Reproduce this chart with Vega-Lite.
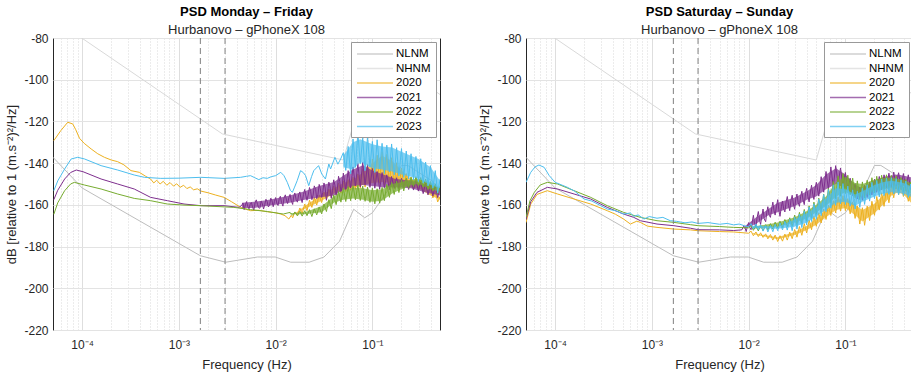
{
"$schema": "https://vega.github.io/schema/vega-lite/v6.json",
"background": "white",
"padding": {"left": 5, "top": 5, "right": 0, "bottom": 0},
"config": {
  "font": "Liberation Sans",
  "view": {"stroke": "#262626", "strokeWidth": 1},
  "axis": {"labelFont": "Liberation Sans", "labelFontSize": 12, "labelColor": "#262626", "titleFont": "Liberation Sans", "titleFontSize": 13, "titleFontWeight": "normal", "titleColor": "#262626", "domain": false, "ticks": false, "gridColor": "#e3e3e3"},
  "concat": {"spacing": 37}
},
"datasets": {
  "nlnm": [{"f":5e-5,"v":-137.2},{"f":1e-4,"v":-151.9},{"f":0.001667,"v":-184.4},{"f":0.003049,"v":-187.5},{"f":0.006494,"v":-185},{"f":0.009901,"v":-185},{"f":0.014286,"v":-187.5},{"f":0.022222,"v":-187.5},{"f":0.031646,"v":-185},{"f":0.045662,"v":-177.5},{"f":0.064103,"v":-162.1},{"f":0.083333,"v":-166.2},{"f":0.1,"v":-163.8},{"f":0.166667,"v":-149},{"f":0.2,"v":-141.1},{"f":0.232558,"v":-141.1},{"f":0.416667,"v":-148.6},{"f":0.5,"v":-152.8}],
  "nhnm": [{"f":5e-5,"v":-70.6},{"f":0.002818,"v":-126},{"f":0.05,"v":-138.5},{"f":0.064935,"v":-120},{"f":0.126582,"v":-113.5},{"f":0.15873,"v":-101},{"f":0.217391,"v":-96.5},{"f":0.263158,"v":-98},{"f":0.5,"v":-107.1}],
  "dash": [{"f":0.001667},{"f":0.003}],
  "bw20": [{"f":0.016,"lo":-164.5,"hi":-164},{"f":0.02,"lo":-162,"hi":-160.5},{"f":0.03,"lo":-158,"hi":-155},{"f":0.04,"lo":-154.5,"hi":-152},{"f":0.05,"lo":-153,"hi":-149.5},{"f":0.063,"lo":-152,"hi":-148},{"f":0.08,"lo":-150.5,"hi":-144.5},{"f":0.1,"lo":-149.5,"hi":-140},{"f":0.126,"lo":-149,"hi":-136.5},{"f":0.16,"lo":-149.5,"hi":-139},{"f":0.2,"lo":-150.5,"hi":-143.5},{"f":0.25,"lo":-151.5,"hi":-147.5},{"f":0.3,"lo":-152,"hi":-149.5},{"f":0.4,"lo":-155.5,"hi":-152},{"f":0.5,"lo":-157.5,"hi":-156.5}],
  "bw21": [{"f":0.0045,"lo":-161.5,"hi":-159},{"f":0.006,"lo":-161.5,"hi":-158.5},{"f":0.008,"lo":-160.5,"hi":-157.8},{"f":0.01,"lo":-160,"hi":-157},{"f":0.014,"lo":-159,"hi":-155.5},{"f":0.02,"lo":-157.5,"hi":-153.5},{"f":0.028,"lo":-156.5,"hi":-151},{"f":0.04,"lo":-155.5,"hi":-149},{"f":0.05,"lo":-153,"hi":-146},{"f":0.063,"lo":-151,"hi":-143},{"f":0.08,"lo":-150.5,"hi":-141},{"f":0.1,"lo":-151,"hi":-143.5},{"f":0.13,"lo":-151.5,"hi":-145.5},{"f":0.17,"lo":-151.5,"hi":-147.5},{"f":0.25,"lo":-152,"hi":-148.5},{"f":0.35,"lo":-154,"hi":-150},{"f":0.5,"lo":-155.5,"hi":-152}],
  "bw22": [{"f":0.014,"lo":-164.5,"hi":-164},{"f":0.02,"lo":-164.5,"hi":-163.5},{"f":0.03,"lo":-163.5,"hi":-160.5},{"f":0.04,"lo":-159,"hi":-156},{"f":0.05,"lo":-157.5,"hi":-153},{"f":0.063,"lo":-157,"hi":-151.8},{"f":0.08,"lo":-157.5,"hi":-152},{"f":0.1,"lo":-158.5,"hi":-153},{"f":0.126,"lo":-158,"hi":-152.5},{"f":0.16,"lo":-154.5,"hi":-150},{"f":0.2,"lo":-152.5,"hi":-149},{"f":0.25,"lo":-150.5,"hi":-147.8},{"f":0.3,"lo":-150,"hi":-147.5},{"f":0.4,"lo":-152.5,"hi":-149.5},{"f":0.5,"lo":-153.5,"hi":-152}],
  "bw23": [{"f":0.05,"lo":-142,"hi":-136.5},{"f":0.063,"lo":-143,"hi":-130},{"f":0.075,"lo":-139.5,"hi":-128.5},{"f":0.1,"lo":-142.5,"hi":-131},{"f":0.126,"lo":-143,"hi":-132},{"f":0.16,"lo":-144,"hi":-132.5},{"f":0.2,"lo":-145.5,"hi":-134.5},{"f":0.25,"lo":-146.5,"hi":-136.5},{"f":0.3,"lo":-147.5,"hi":-138},{"f":0.4,"lo":-150.5,"hi":-142},{"f":0.5,"lo":-152,"hi":-148.5}],
  "be20": [{"f":0.011,"lo":-174,"hi":-173.5},{"f":0.02,"lo":-176.5,"hi":-175.5},{"f":0.03,"lo":-174.5,"hi":-173},{"f":0.04,"lo":-172,"hi":-170},{"f":0.05,"lo":-169.5,"hi":-166.5},{"f":0.063,"lo":-166,"hi":-162.5},{"f":0.08,"lo":-162.5,"hi":-157.5},{"f":0.1,"lo":-161.5,"hi":-157},{"f":0.126,"lo":-165,"hi":-160},{"f":0.15,"lo":-168,"hi":-162.5},{"f":0.2,"lo":-164,"hi":-159.5},{"f":0.25,"lo":-159.5,"hi":-155},{"f":0.3,"lo":-155.5,"hi":-152},{"f":0.35,"lo":-154,"hi":-150.5},{"f":0.4,"lo":-155,"hi":-151.5},{"f":0.5,"lo":-160,"hi":-156}],
  "be21": [{"f":0.009,"lo":-171.5,"hi":-170.5},{"f":0.012,"lo":-169,"hi":-166},{"f":0.016,"lo":-165,"hi":-162},{"f":0.02,"lo":-163.5,"hi":-159},{"f":0.03,"lo":-160.5,"hi":-156.5},{"f":0.04,"lo":-157.5,"hi":-153.5},{"f":0.05,"lo":-156,"hi":-150.5},{"f":0.063,"lo":-152.5,"hi":-145.5},{"f":0.08,"lo":-150,"hi":-142.5},{"f":0.1,"lo":-152,"hi":-145.5},{"f":0.126,"lo":-156,"hi":-150.5},{"f":0.15,"lo":-156.5,"hi":-152},{"f":0.2,"lo":-153,"hi":-148.5},{"f":0.25,"lo":-151.5,"hi":-146.5},{"f":0.35,"lo":-150.5,"hi":-145.5},{"f":0.5,"lo":-151.5,"hi":-147}],
  "be22": [{"f":0.011,"lo":-171.5,"hi":-170.5},{"f":0.02,"lo":-170.5,"hi":-168.5},{"f":0.03,"lo":-168.5,"hi":-166},{"f":0.04,"lo":-166.5,"hi":-163},{"f":0.05,"lo":-163.5,"hi":-160},{"f":0.063,"lo":-160.5,"hi":-156},{"f":0.08,"lo":-156,"hi":-149},{"f":0.1,"lo":-154,"hi":-146.5},{"f":0.126,"lo":-155.5,"hi":-149.5},{"f":0.15,"lo":-156,"hi":-150},{"f":0.2,"lo":-153.5,"hi":-148},{"f":0.25,"lo":-152.5,"hi":-147},{"f":0.3,"lo":-152,"hi":-147},{"f":0.4,"lo":-153,"hi":-148},{"f":0.5,"lo":-155,"hi":-150}],
  "be23": [{"f":0.011,"lo":-171,"hi":-170},{"f":0.02,"lo":-171.5,"hi":-170.5},{"f":0.03,"lo":-170.5,"hi":-167},{"f":0.04,"lo":-168.5,"hi":-164},{"f":0.05,"lo":-165.5,"hi":-161},{"f":0.063,"lo":-162.5,"hi":-157},{"f":0.08,"lo":-159,"hi":-152},{"f":0.1,"lo":-158.5,"hi":-152.5},{"f":0.126,"lo":-160.5,"hi":-155},{"f":0.15,"lo":-158.5,"hi":-153.5},{"f":0.2,"lo":-156,"hi":-150.5},{"f":0.25,"lo":-154.5,"hi":-149},{"f":0.3,"lo":-154,"hi":-148.5},{"f":0.4,"lo":-154.5,"hi":-149.5},{"f":0.5,"lo":-156.5,"hi":-151.5}],
  "w20": [{"f":5.1e-5,"v":-129.2},{"f":6.0e-5,"v":-124.5},{"f":7.1e-5,"v":-120.4},{"f":8.0e-5,"v":-121.2},{"f":8.6e-5,"v":-124},{"f":9.4e-5,"v":-128.1},{"f":1.05e-4,"v":-130.5},{"f":1.24e-4,"v":-133.2},{"f":1.45e-4,"v":-135.5},{"f":1.7e-4,"v":-137.2},{"f":2.0e-4,"v":-138.5},{"f":2.33e-4,"v":-139.3},{"f":2.7e-4,"v":-140.8},{"f":3.2e-4,"v":-143.6},{"f":3.9e-4,"v":-144.4},{"f":4.5e-4,"v":-146.2},{"f":5.1e-4,"v":-147.6},{"f":5.5e-4,"v":-149.5},{"f":5.9e-4,"v":-148.2},{"f":6.4e-4,"v":-150},{"f":6.9e-4,"v":-148.7},{"f":7.5e-4,"v":-150.6},{"f":8.1e-4,"v":-149.3},{"f":8.8e-4,"v":-151},{"f":9.5e-4,"v":-149.9},{"f":0.00103,"v":-151.6},{"f":0.00112,"v":-150.6},{"f":0.00121,"v":-152.2},{"f":0.00131,"v":-151.4},{"f":0.00142,"v":-152.8},{"f":0.00155,"v":-152.3},{"f":0.00169,"v":-153.4},{"f":0.002,"v":-154.2},{"f":0.0024,"v":-155.3},{"f":0.00293,"v":-156.4},{"f":0.0035,"v":-158.5},{"f":0.00435,"v":-161.2},{"f":0.0055,"v":-162.8},{"f":0.0067,"v":-162.6},{"f":0.0082,"v":-163.3},{"f":0.01,"v":-163.8},{"f":0.0113,"v":-164.4},{"f":0.0125,"v":-165.2},{"f":0.0137,"v":-166.8},{"f":0.0145,"v":-165},{"f":0.015,"v":-166.2},{"f":0.0158,"v":-163.5},{"f":0.0168,"v":-165},{"f":0.0178,"v":-161.5},{"f":0.0188,"v":-164.2},{"f":0.02,"v":-159.6},{"f":0.0211,"v":-162.8},{"f":0.0224,"v":-157.8},{"f":0.0237,"v":-161.2},{"f":0.0251,"v":-156.5},{"f":0.0266,"v":-160.1},{"f":0.0282,"v":-155.2},{"f":0.0299,"v":-158.9},{"f":0.0316,"v":-153.8},{"f":0.0335,"v":-157.6},{"f":0.0355,"v":-152.4},{"f":0.0376,"v":-156.5},{"f":0.0398,"v":-151},{"f":0.0422,"v":-155.2},{"f":0.0447,"v":-149.6},{"f":0.0473,"v":-154.4},{"f":0.0501,"v":-148.5},{"f":0.0531,"v":-153.6},{"f":0.0562,"v":-147.9},{"f":0.0596,"v":-153},{"f":0.0631,"v":-146.8},{"f":0.0668,"v":-152.6},{"f":0.0708,"v":-145.2},{"f":0.075,"v":-152},{"f":0.0794,"v":-143},{"f":0.0841,"v":-151.5},{"f":0.0891,"v":-140.5},{"f":0.0944,"v":-150.8},{"f":0.1,"v":-138},{"f":0.106,"v":-150.2},{"f":0.112,"v":-136.2},{"f":0.119,"v":-149.7},{"f":0.126,"v":-134.5},{"f":0.133,"v":-150.4},{"f":0.141,"v":-135.8},{"f":0.15,"v":-151},{"f":0.158,"v":-137.4},{"f":0.168,"v":-150.7},{"f":0.178,"v":-139.8},{"f":0.188,"v":-151.6},{"f":0.2,"v":-142.3},{"f":0.211,"v":-151.2},{"f":0.224,"v":-145},{"f":0.237,"v":-151.8},{"f":0.251,"v":-146.7},{"f":0.266,"v":-152.3},{"f":0.282,"v":-147.8},{"f":0.299,"v":-153},{"f":0.316,"v":-148.4},{"f":0.335,"v":-153.8},{"f":0.355,"v":-149.5},{"f":0.376,"v":-155},{"f":0.398,"v":-151},{"f":0.422,"v":-156.7},{"f":0.447,"v":-153.2},{"f":0.473,"v":-158.6},{"f":0.501,"v":-156}],
  "w21": [{"f":5.1e-5,"v":-157.5},{"f":5.6e-5,"v":-153},{"f":6.6e-5,"v":-147.6},{"f":7.6e-5,"v":-144.5},{"f":8.7e-5,"v":-143.3},{"f":1.02e-4,"v":-144.1},{"f":1.57e-4,"v":-147.6},{"f":2.33e-4,"v":-150},{"f":3.46e-4,"v":-152.4},{"f":5.1e-4,"v":-156.4},{"f":7.6e-4,"v":-158},{"f":0.00113,"v":-159.6},{"f":0.00169,"v":-160.4},{"f":0.00293,"v":-160.4},{"f":0.0042,"v":-161.2},{"f":0.00447,"v":-160.2},{"f":0.0046,"v":-159.1},{"f":0.00473,"v":-162.3},{"f":0.00487,"v":-160},{"f":0.00501,"v":-158.4},{"f":0.00516,"v":-160.8},{"f":0.00531,"v":-161.9},{"f":0.00546,"v":-159.7},{"f":0.00562,"v":-158.9},{"f":0.00579,"v":-161.3},{"f":0.00596,"v":-162.5},{"f":0.00613,"v":-159},{"f":0.00631,"v":-157.6},{"f":0.0065,"v":-159.8},{"f":0.00668,"v":-161.4},{"f":0.00688,"v":-161.6},{"f":0.00708,"v":-158.2},{"f":0.00729,"v":-159.4},{"f":0.0075,"v":-162},{"f":0.00772,"v":-159.9},{"f":0.00794,"v":-157.3},{"f":0.00818,"v":-158.5},{"f":0.00841,"v":-161},{"f":0.00866,"v":-160.2},{"f":0.00891,"v":-156.8},{"f":0.00917,"v":-158},{"f":0.00944,"v":-160.9},{"f":0.00972,"v":-158.4},{"f":0.01,"v":-156.5},{"f":0.0103,"v":-159.2},{"f":0.0106,"v":-160.3},{"f":0.0109,"v":-157},{"f":0.0112,"v":-155.9},{"f":0.0115,"v":-158.8},{"f":0.0119,"v":-160.6},{"f":0.0122,"v":-156.8},{"f":0.0126,"v":-155.2},{"f":0.013,"v":-158.1},{"f":0.0133,"v":-159.4},{"f":0.0137,"v":-156.6},{"f":0.0141,"v":-155},{"f":0.0145,"v":-157.9},{"f":0.015,"v":-159.8},{"f":0.0154,"v":-155.8},{"f":0.0158,"v":-154.3},{"f":0.0163,"v":-157.5},{"f":0.0168,"v":-158.7},{"f":0.0173,"v":-155.2},{"f":0.0178,"v":-153.8},{"f":0.0183,"v":-156.9},{"f":0.0188,"v":-158.9},{"f":0.0194,"v":-155},{"f":0.02,"v":-152.6},{"f":0.0205,"v":-155.4},{"f":0.0211,"v":-157.8},{"f":0.0218,"v":-154.8},{"f":0.0224,"v":-151.7},{"f":0.023,"v":-153.5},{"f":0.0237,"v":-157.5},{"f":0.0244,"v":-155.3},{"f":0.0251,"v":-150.9},{"f":0.0259,"v":-152.6},{"f":0.0266,"v":-157},{"f":0.0274,"v":-154.9},{"f":0.0282,"v":-150.2},{"f":0.029,"v":-152.3},{"f":0.0299,"v":-156.4},{"f":0.0307,"v":-154.1},{"f":0.0316,"v":-149.5},{"f":0.0325,"v":-151.9},{"f":0.0335,"v":-157.8},{"f":0.0345,"v":-153.6},{"f":0.0355,"v":-149.1},{"f":0.0365,"v":-151.3},{"f":0.0376,"v":-156.9},{"f":0.0387,"v":-153.2},{"f":0.0398,"v":-148},{"f":0.041,"v":-150.6},{"f":0.0422,"v":-155.4},{"f":0.0435,"v":-152},{"f":0.0447,"v":-146.3},{"f":0.046,"v":-148.8},{"f":0.0473,"v":-153.6},{"f":0.0487,"v":-151.4},{"f":0.0501,"v":-144.8},{"f":0.0531,"v":-152.7},{"f":0.0562,"v":-143.6},{"f":0.0596,"v":-151.9},{"f":0.0631,"v":-141.8},{"f":0.0668,"v":-150.8},{"f":0.0708,"v":-140.2},{"f":0.075,"v":-151.4},{"f":0.0794,"v":-139.6},{"f":0.0841,"v":-150.3},{"f":0.0891,"v":-140.8},{"f":0.0944,"v":-151.6},{"f":0.1,"v":-142.5},{"f":0.106,"v":-152},{"f":0.112,"v":-144},{"f":0.119,"v":-152.5},{"f":0.126,"v":-144.5},{"f":0.133,"v":-151.8},{"f":0.141,"v":-145.6},{"f":0.15,"v":-152.7},{"f":0.158,"v":-146.4},{"f":0.168,"v":-152.2},{"f":0.178,"v":-147},{"f":0.188,"v":-152.4},{"f":0.2,"v":-147.3},{"f":0.211,"v":-152.1},{"f":0.224,"v":-147.8},{"f":0.237,"v":-152.6},{"f":0.251,"v":-147.9},{"f":0.266,"v":-152.9},{"f":0.282,"v":-148.3},{"f":0.299,"v":-153.4},{"f":0.316,"v":-149},{"f":0.335,"v":-154.6},{"f":0.355,"v":-149.3},{"f":0.376,"v":-155.2},{"f":0.398,"v":-149.7},{"f":0.422,"v":-155.8},{"f":0.447,"v":-150.4},{"f":0.473,"v":-156.5},{"f":0.501,"v":-151.5}],
  "w22": [{"f":5.1e-5,"v":-164.5},{"f":5.6e-5,"v":-159},{"f":6.6e-5,"v":-153.2},{"f":7.6e-5,"v":-150},{"f":8.3e-5,"v":-149.2},{"f":1.06e-4,"v":-150.5},{"f":1.57e-4,"v":-152.4},{"f":2.33e-4,"v":-154.8},{"f":3.46e-4,"v":-156.9},{"f":5.1e-4,"v":-158},{"f":7.6e-4,"v":-159.6},{"f":0.00113,"v":-160.1},{"f":0.00169,"v":-160.4},{"f":0.0037,"v":-161.2},{"f":0.0055,"v":-162.3},{"f":0.0082,"v":-163.2},{"f":0.012,"v":-164.4},{"f":0.0141,"v":-163.6},{"f":0.015,"v":-165},{"f":0.0158,"v":-163.4},{"f":0.0168,"v":-165.3},{"f":0.0178,"v":-163.1},{"f":0.0188,"v":-165.4},{"f":0.02,"v":-162.8},{"f":0.0211,"v":-165.2},{"f":0.0224,"v":-162.3},{"f":0.0237,"v":-165.6},{"f":0.0251,"v":-161.9},{"f":0.0266,"v":-164.8},{"f":0.0282,"v":-161},{"f":0.0299,"v":-164.3},{"f":0.0316,"v":-159.6},{"f":0.0335,"v":-163.2},{"f":0.0355,"v":-157.5},{"f":0.0376,"v":-161.8},{"f":0.0398,"v":-155.2},{"f":0.0422,"v":-159.9},{"f":0.0447,"v":-153.6},{"f":0.0473,"v":-158.7},{"f":0.0501,"v":-152},{"f":0.0531,"v":-158.4},{"f":0.0562,"v":-151.2},{"f":0.0596,"v":-158},{"f":0.0631,"v":-150.8},{"f":0.0668,"v":-157.6},{"f":0.0708,"v":-150.5},{"f":0.075,"v":-157.9},{"f":0.0794,"v":-151},{"f":0.0841,"v":-158.3},{"f":0.0891,"v":-151.5},{"f":0.0944,"v":-158.8},{"f":0.1,"v":-152},{"f":0.106,"v":-159.5},{"f":0.112,"v":-152.3},{"f":0.119,"v":-159.2},{"f":0.126,"v":-151.6},{"f":0.133,"v":-158},{"f":0.141,"v":-150.2},{"f":0.15,"v":-156.4},{"f":0.158,"v":-149.3},{"f":0.168,"v":-155},{"f":0.178,"v":-148.6},{"f":0.188,"v":-154.1},{"f":0.2,"v":-148},{"f":0.211,"v":-153.3},{"f":0.224,"v":-147.2},{"f":0.237,"v":-152},{"f":0.251,"v":-146.8},{"f":0.266,"v":-151.2},{"f":0.282,"v":-146.5},{"f":0.299,"v":-150.8},{"f":0.316,"v":-146.9},{"f":0.335,"v":-151.5},{"f":0.355,"v":-147.6},{"f":0.376,"v":-152.6},{"f":0.398,"v":-148.8},{"f":0.422,"v":-153.4},{"f":0.447,"v":-149.9},{"f":0.473,"v":-154.6},{"f":0.501,"v":-151}],
  "w23": [{"f":5.1e-5,"v":-153.2},{"f":5.6e-5,"v":-148.5},{"f":6.6e-5,"v":-142.8},{"f":7.7e-5,"v":-138},{"f":9.0e-5,"v":-137.2},{"f":1.06e-4,"v":-138},{"f":1.57e-4,"v":-141.2},{"f":2.33e-4,"v":-143.3},{"f":3.46e-4,"v":-145.7},{"f":4.4e-4,"v":-146.8},{"f":6.5e-4,"v":-147.3},{"f":0.001,"v":-147.2},{"f":0.00169,"v":-146.8},{"f":0.00293,"v":-147.3},{"f":0.00435,"v":-146.8},{"f":0.005,"v":-146.3},{"f":0.0055,"v":-146},{"f":0.0061,"v":-147},{"f":0.0067,"v":-147.9},{"f":0.0074,"v":-147},{"f":0.0082,"v":-147.3},{"f":0.009,"v":-146.5},{"f":0.01,"v":-146},{"f":0.0113,"v":-144.4},{"f":0.0122,"v":-146},{"f":0.0132,"v":-149.2},{"f":0.0142,"v":-153},{"f":0.0149,"v":-154},{"f":0.0157,"v":-151.5},{"f":0.0167,"v":-148.4},{"f":0.0181,"v":-143.6},{"f":0.0193,"v":-144.5},{"f":0.0204,"v":-146},{"f":0.022,"v":-150.8},{"f":0.0235,"v":-146.5},{"f":0.0248,"v":-143.6},{"f":0.0278,"v":-141.2},{"f":0.03,"v":-145.2},{"f":0.0327,"v":-147.6},{"f":0.0355,"v":-140.4},{"f":0.037,"v":-142.8},{"f":0.041,"v":-137.2},{"f":0.044,"v":-140.5},{"f":0.047,"v":-138},{"f":0.0501,"v":-135},{"f":0.0531,"v":-143.5},{"f":0.0562,"v":-132},{"f":0.0596,"v":-145.2},{"f":0.0631,"v":-128.4},{"f":0.0668,"v":-142},{"f":0.0708,"v":-125.5},{"f":0.075,"v":-140.3},{"f":0.0794,"v":-128},{"f":0.0841,"v":-143.6},{"f":0.0891,"v":-127.2},{"f":0.0944,"v":-141.8},{"f":0.1,"v":-129.6},{"f":0.106,"v":-144.5},{"f":0.112,"v":-128.8},{"f":0.119,"v":-142.7},{"f":0.126,"v":-130.5},{"f":0.133,"v":-145},{"f":0.141,"v":-131.4},{"f":0.15,"v":-144.2},{"f":0.158,"v":-130.8},{"f":0.168,"v":-145.6},{"f":0.178,"v":-132.6},{"f":0.188,"v":-146.1},{"f":0.2,"v":-133},{"f":0.211,"v":-146.8},{"f":0.224,"v":-134.2},{"f":0.237,"v":-147.5},{"f":0.251,"v":-135.5},{"f":0.266,"v":-148},{"f":0.282,"v":-136.8},{"f":0.299,"v":-148.8},{"f":0.316,"v":-137.9},{"f":0.335,"v":-149.6},{"f":0.355,"v":-139.5},{"f":0.376,"v":-150.9},{"f":0.398,"v":-141.2},{"f":0.422,"v":-152},{"f":0.447,"v":-143.6},{"f":0.473,"v":-154.3},{"f":0.501,"v":-147.5}],
  "e20": [{"f":5.0e-5,"v":-168.5},{"f":5.6e-5,"v":-159.6},{"f":6.5e-5,"v":-155},{"f":8.3e-5,"v":-153.2},{"f":1.06e-4,"v":-154.8},{"f":1.57e-4,"v":-157.2},{"f":2.33e-4,"v":-159.6},{"f":3.46e-4,"v":-162.8},{"f":4.2e-4,"v":-164.5},{"f":5.1e-4,"v":-166.8},{"f":6.0e-4,"v":-169.2},{"f":7.0e-4,"v":-167.8},{"f":7.6e-4,"v":-168.4},{"f":9.0e-4,"v":-170.2},{"f":0.00113,"v":-170.8},{"f":0.00169,"v":-171.6},{"f":0.0025,"v":-172},{"f":0.003,"v":-172.4},{"f":0.005,"v":-172.8},{"f":0.007,"v":-173},{"f":0.01,"v":-173.6},{"f":0.0106,"v":-172.6},{"f":0.0112,"v":-174.8},{"f":0.0119,"v":-173},{"f":0.0126,"v":-175.2},{"f":0.0133,"v":-173.4},{"f":0.0141,"v":-175.6},{"f":0.015,"v":-173.9},{"f":0.0158,"v":-176.3},{"f":0.0168,"v":-174.2},{"f":0.0178,"v":-176.9},{"f":0.0188,"v":-174.5},{"f":0.02,"v":-177.6},{"f":0.0211,"v":-174.8},{"f":0.0224,"v":-177.4},{"f":0.0237,"v":-174},{"f":0.0251,"v":-176.9},{"f":0.0266,"v":-173.1},{"f":0.0282,"v":-176.2},{"f":0.0299,"v":-171.8},{"f":0.0316,"v":-175.5},{"f":0.0335,"v":-170.4},{"f":0.0355,"v":-174.6},{"f":0.0376,"v":-169},{"f":0.0398,"v":-173.5},{"f":0.0422,"v":-167.3},{"f":0.0447,"v":-171.9},{"f":0.0473,"v":-165.5},{"f":0.0501,"v":-170.3},{"f":0.0531,"v":-163.8},{"f":0.0562,"v":-168.7},{"f":0.0596,"v":-162},{"f":0.0631,"v":-167},{"f":0.0668,"v":-160.2},{"f":0.0708,"v":-165.1},{"f":0.075,"v":-158},{"f":0.0794,"v":-163.9},{"f":0.0841,"v":-156.1},{"f":0.0891,"v":-163},{"f":0.0944,"v":-155.6},{"f":0.1,"v":-162.8},{"f":0.106,"v":-157},{"f":0.112,"v":-164.3},{"f":0.119,"v":-158.8},{"f":0.126,"v":-166.5},{"f":0.133,"v":-160.5},{"f":0.141,"v":-169.2},{"f":0.15,"v":-161.4},{"f":0.158,"v":-169.8},{"f":0.168,"v":-160.6},{"f":0.178,"v":-167.5},{"f":0.188,"v":-158.3},{"f":0.2,"v":-165},{"f":0.211,"v":-156},{"f":0.224,"v":-162.5},{"f":0.237,"v":-154.2},{"f":0.251,"v":-160.7},{"f":0.266,"v":-152.5},{"f":0.282,"v":-159},{"f":0.299,"v":-150.8},{"f":0.316,"v":-156.6},{"f":0.335,"v":-149},{"f":0.355,"v":-155.2},{"f":0.376,"v":-149.5},{"f":0.398,"v":-156},{"f":0.422,"v":-151.5},{"f":0.447,"v":-158.3},{"f":0.473,"v":-154.6},{"f":0.501,"v":-161}],
  "e21": [{"f":5.0e-5,"v":-167},{"f":5.6e-5,"v":-158.5},{"f":6.5e-5,"v":-154},{"f":8.3e-5,"v":-151.6},{"f":1.06e-4,"v":-152.4},{"f":1.57e-4,"v":-154.8},{"f":2.33e-4,"v":-157.2},{"f":3.46e-4,"v":-161.2},{"f":5.1e-4,"v":-164.4},{"f":6.5e-4,"v":-166},{"f":7.6e-4,"v":-167.6},{"f":0.00113,"v":-169.2},{"f":0.00169,"v":-170},{"f":0.0025,"v":-171.2},{"f":0.003,"v":-171.9},{"f":0.005,"v":-172},{"f":0.007,"v":-172.3},{"f":0.0085,"v":-172},{"f":0.00891,"v":-170.2},{"f":0.00917,"v":-171},{"f":0.00944,"v":-172.8},{"f":0.00972,"v":-170.3},{"f":0.01,"v":-168.5},{"f":0.0103,"v":-170.9},{"f":0.0106,"v":-171.9},{"f":0.0109,"v":-168.2},{"f":0.0112,"v":-165},{"f":0.0115,"v":-168.9},{"f":0.0119,"v":-170.6},{"f":0.0122,"v":-166.4},{"f":0.0126,"v":-163.2},{"f":0.013,"v":-167.5},{"f":0.0133,"v":-169.4},{"f":0.0137,"v":-165.3},{"f":0.0141,"v":-162},{"f":0.0145,"v":-166.8},{"f":0.015,"v":-168.1},{"f":0.0154,"v":-163.5},{"f":0.0158,"v":-160.9},{"f":0.0163,"v":-164.9},{"f":0.0168,"v":-166},{"f":0.0173,"v":-162},{"f":0.0178,"v":-158.7},{"f":0.0183,"v":-162.8},{"f":0.0188,"v":-164.9},{"f":0.0194,"v":-160.6},{"f":0.02,"v":-157.5},{"f":0.0205,"v":-162.3},{"f":0.0211,"v":-165.5},{"f":0.0218,"v":-160.9},{"f":0.0224,"v":-158.2},{"f":0.023,"v":-161.8},{"f":0.0237,"v":-163.4},{"f":0.0244,"v":-158.6},{"f":0.0251,"v":-156},{"f":0.0259,"v":-160.4},{"f":0.0266,"v":-162.8},{"f":0.0274,"v":-157.8},{"f":0.0282,"v":-155.4},{"f":0.029,"v":-159.6},{"f":0.0299,"v":-162.1},{"f":0.0307,"v":-157.2},{"f":0.0316,"v":-154.8},{"f":0.0325,"v":-158.9},{"f":0.0335,"v":-160.7},{"f":0.0345,"v":-155.9},{"f":0.0355,"v":-153.5},{"f":0.0365,"v":-157.6},{"f":0.0376,"v":-159.9},{"f":0.0387,"v":-154.5},{"f":0.0398,"v":-152.1},{"f":0.041,"v":-156},{"f":0.0422,"v":-158.6},{"f":0.0435,"v":-153.8},{"f":0.0447,"v":-150.6},{"f":0.046,"v":-154.9},{"f":0.0473,"v":-157.4},{"f":0.0487,"v":-152},{"f":0.0501,"v":-149.2},{"f":0.0531,"v":-155.8},{"f":0.0562,"v":-146.5},{"f":0.0596,"v":-153.9},{"f":0.0631,"v":-144},{"f":0.0668,"v":-152.5},{"f":0.0708,"v":-141.8},{"f":0.075,"v":-151.4},{"f":0.0794,"v":-141.2},{"f":0.0841,"v":-150},{"f":0.0891,"v":-142.3},{"f":0.0944,"v":-151.2},{"f":0.1,"v":-144.5},{"f":0.106,"v":-153},{"f":0.112,"v":-147.2},{"f":0.119,"v":-155.6},{"f":0.126,"v":-149.8},{"f":0.133,"v":-157.2},{"f":0.141,"v":-151.5},{"f":0.15,"v":-157.8},{"f":0.158,"v":-150.6},{"f":0.168,"v":-156.5},{"f":0.178,"v":-149},{"f":0.188,"v":-155.3},{"f":0.2,"v":-147.7},{"f":0.211,"v":-154},{"f":0.224,"v":-146.4},{"f":0.237,"v":-152.8},{"f":0.251,"v":-145.6},{"f":0.266,"v":-152},{"f":0.282,"v":-144.8},{"f":0.299,"v":-151.4},{"f":0.316,"v":-144.3},{"f":0.335,"v":-150.9},{"f":0.355,"v":-144.6},{"f":0.376,"v":-151.5},{"f":0.398,"v":-145},{"f":0.422,"v":-151.8},{"f":0.447,"v":-145.6},{"f":0.473,"v":-152.6},{"f":0.501,"v":-146.5}],
  "e22": [{"f":5.0e-5,"v":-166},{"f":5.5e-5,"v":-158},{"f":6.1e-5,"v":-154},{"f":7.0e-5,"v":-150.5},{"f":8.3e-5,"v":-149.2},{"f":1.06e-4,"v":-150},{"f":1.57e-4,"v":-153.2},{"f":2.33e-4,"v":-156.4},{"f":3.46e-4,"v":-160.4},{"f":5.1e-4,"v":-163.6},{"f":7.6e-4,"v":-166},{"f":0.00113,"v":-167.6},{"f":0.00169,"v":-168.4},{"f":0.0025,"v":-169.5},{"f":0.003,"v":-170},{"f":0.005,"v":-170.4},{"f":0.007,"v":-170.8},{"f":0.01,"v":-171},{"f":0.0106,"v":-170},{"f":0.0112,"v":-172.2},{"f":0.0119,"v":-170.1},{"f":0.0126,"v":-172.5},{"f":0.0133,"v":-169.8},{"f":0.0141,"v":-172.4},{"f":0.015,"v":-169.5},{"f":0.0158,"v":-172},{"f":0.0168,"v":-169},{"f":0.0178,"v":-171.6},{"f":0.0188,"v":-168.3},{"f":0.02,"v":-171.2},{"f":0.0211,"v":-167.8},{"f":0.0224,"v":-170.9},{"f":0.0237,"v":-167},{"f":0.0251,"v":-170.5},{"f":0.0266,"v":-166.2},{"f":0.0282,"v":-170.3},{"f":0.0299,"v":-164.9},{"f":0.0316,"v":-169.7},{"f":0.0335,"v":-163.6},{"f":0.0355,"v":-168.9},{"f":0.0376,"v":-162.2},{"f":0.0398,"v":-167.8},{"f":0.0422,"v":-160.5},{"f":0.0447,"v":-166.4},{"f":0.0473,"v":-158.7},{"f":0.0501,"v":-164.6},{"f":0.0531,"v":-156.8},{"f":0.0562,"v":-163.3},{"f":0.0596,"v":-154.9},{"f":0.0631,"v":-161.6},{"f":0.0668,"v":-152},{"f":0.0708,"v":-159.4},{"f":0.075,"v":-148.8},{"f":0.0794,"v":-157.2},{"f":0.0841,"v":-146.1},{"f":0.0891,"v":-155.9},{"f":0.0944,"v":-145},{"f":0.1,"v":-154.6},{"f":0.106,"v":-145.8},{"f":0.112,"v":-155.2},{"f":0.119,"v":-147.2},{"f":0.126,"v":-156.6},{"f":0.133,"v":-148.5},{"f":0.141,"v":-157.5},{"f":0.15,"v":-149},{"f":0.158,"v":-156.8},{"f":0.168,"v":-148.2},{"f":0.178,"v":-155.4},{"f":0.188,"v":-147},{"f":0.2,"v":-154.2},{"f":0.211,"v":-146.3},{"f":0.224,"v":-153.6},{"f":0.237,"v":-145.8},{"f":0.251,"v":-153.2},{"f":0.266,"v":-145.6},{"f":0.282,"v":-152.9},{"f":0.299,"v":-145.9},{"f":0.316,"v":-153},{"f":0.335,"v":-146.2},{"f":0.355,"v":-153.5},{"f":0.376,"v":-146.9},{"f":0.398,"v":-154},{"f":0.422,"v":-147.8},{"f":0.447,"v":-155.1},{"f":0.473,"v":-149},{"f":0.501,"v":-156.2}],
  "e23": [{"f":5.0e-5,"v":-149.2},{"f":5.6e-5,"v":-144.4},{"f":6.2e-5,"v":-141.8},{"f":6.8e-5,"v":-140.9},{"f":7.7e-5,"v":-142},{"f":8.7e-5,"v":-146},{"f":1.0e-4,"v":-149.2},{"f":1.34e-4,"v":-151.6},{"f":1.6e-4,"v":-153.5},{"f":1.99e-4,"v":-157.2},{"f":2.4e-4,"v":-158.2},{"f":2.96e-4,"v":-160.4},{"f":3.46e-4,"v":-162},{"f":4.2e-4,"v":-162.8},{"f":5.1e-4,"v":-164.4},{"f":6.0e-4,"v":-163.9},{"f":6.5e-4,"v":-165.5},{"f":7.2e-4,"v":-164.8},{"f":8.3e-4,"v":-166.8},{"f":9.4e-4,"v":-165.6},{"f":0.00113,"v":-166.4},{"f":0.0013,"v":-166},{"f":0.00155,"v":-167.6},{"f":0.0018,"v":-167.9},{"f":0.0022,"v":-168.6},{"f":0.0026,"v":-168.2},{"f":0.003,"v":-168.9},{"f":0.0038,"v":-168.5},{"f":0.005,"v":-169.3},{"f":0.006,"v":-168.9},{"f":0.007,"v":-169.6},{"f":0.008,"v":-169.2},{"f":0.009,"v":-170},{"f":0.01,"v":-170.5},{"f":0.0106,"v":-169},{"f":0.0112,"v":-171.6},{"f":0.0119,"v":-169.2},{"f":0.0126,"v":-172},{"f":0.0133,"v":-169.6},{"f":0.0141,"v":-172.6},{"f":0.015,"v":-169.9},{"f":0.0158,"v":-173},{"f":0.0168,"v":-169.8},{"f":0.0178,"v":-172.9},{"f":0.0188,"v":-169.3},{"f":0.02,"v":-172.4},{"f":0.0211,"v":-168.6},{"f":0.0224,"v":-172},{"f":0.0237,"v":-167.9},{"f":0.0251,"v":-172.1},{"f":0.0266,"v":-167},{"f":0.0282,"v":-172.4},{"f":0.0299,"v":-165.8},{"f":0.0316,"v":-171.6},{"f":0.0335,"v":-164.4},{"f":0.0355,"v":-170.9},{"f":0.0376,"v":-162.9},{"f":0.0398,"v":-169.6},{"f":0.0422,"v":-161},{"f":0.0447,"v":-168},{"f":0.0473,"v":-159.5},{"f":0.0501,"v":-166.9},{"f":0.0531,"v":-157.3},{"f":0.0562,"v":-165.2},{"f":0.0596,"v":-155.1},{"f":0.0631,"v":-163.3},{"f":0.0668,"v":-152.7},{"f":0.0708,"v":-161.6},{"f":0.075,"v":-150.4},{"f":0.0794,"v":-160.2},{"f":0.0841,"v":-149},{"f":0.0891,"v":-159.5},{"f":0.0944,"v":-149.8},{"f":0.1,"v":-159.8},{"f":0.106,"v":-151},{"f":0.112,"v":-160.6},{"f":0.119,"v":-152.8},{"f":0.126,"v":-162},{"f":0.133,"v":-153.5},{"f":0.141,"v":-161.2},{"f":0.15,"v":-152},{"f":0.158,"v":-159.8},{"f":0.168,"v":-150.4},{"f":0.178,"v":-158.2},{"f":0.188,"v":-149.2},{"f":0.2,"v":-157},{"f":0.211,"v":-148.3},{"f":0.224,"v":-156.2},{"f":0.237,"v":-147.6},{"f":0.251,"v":-155.6},{"f":0.266,"v":-147.2},{"f":0.282,"v":-155},{"f":0.299,"v":-147},{"f":0.316,"v":-154.8},{"f":0.335,"v":-147.4},{"f":0.355,"v":-155.1},{"f":0.376,"v":-148},{"f":0.398,"v":-155.5},{"f":0.422,"v":-148.6},{"f":0.447,"v":-156.4},{"f":0.473,"v":-150},{"f":0.501,"v":-157.4}]
},
"hconcat": [
  {
    "width": 387, "height": 292,
    "title": {"text": "PSD Monday – Friday", "subtitle": "Hurbanovo – gPhoneX 108", "anchor": "middle", "frame": "group", "font": "Liberation Sans", "subtitleFont": "Liberation Sans", "fontSize": 13, "fontWeight": "bold", "subtitleFontSize": 13, "color": "black", "subtitleColor": "#262626", "offset": -5, "subtitlePadding": 5},
    "encoding": {
      "x": {"field": "f", "type": "quantitative", "title": "Frequency (Hz)",
        "scale": {"type": "log", "domain": [5e-5, 0.5], "nice": false},
        "axis": {"values": [6e-5,7e-5,8e-5,9e-5,0.0001,0.0002,0.0003,0.0004,0.0005,0.0006,0.0007,0.0008,0.0009,0.001,0.002,0.003,0.004,0.005,0.006,0.007,0.008,0.009,0.01,0.02,0.03,0.04,0.05,0.06,0.07,0.08,0.09,0.1,0.2,0.3,0.4],
          "labelExpr": "datum.value == 0.0001 ? '10⁻⁴' : datum.value == 0.001 ? '10⁻³' : datum.value == 0.01 ? '10⁻²' : datum.value == 0.1 ? '10⁻¹' : ''",
          "labelOverlap": false, "labelFlush": false, "labelPadding": 9, "titlePadding": 8,
          "gridDash": {"condition": {"test": "datum.value == 0.0001 || datum.value == 0.001 || datum.value == 0.01 || datum.value == 0.1", "value": []}, "value": [1, 2]},
          "gridColor": {"condition": {"test": "datum.value == 0.0001 || datum.value == 0.001 || datum.value == 0.01 || datum.value == 0.1", "value": "#dedede"}, "value": "#d8d8d8"}}}
    },
    "layer": [
      {"data": {"name": "nhnm"}, "mark": {"type": "line", "clip": true, "strokeWidth": 1},
       "encoding": {
         "y": {"field": "v", "type": "quantitative", "title": "dB [relative to 1 (m.s⁻²)²/Hz]", "scale": {"domain": [-220, -80], "nice": false, "zero": false}, "axis": {"values": [-220,-200,-180,-160,-140,-120,-100,-80], "labelExpr": "'' + datum.value", "labelPadding": 5, "titlePadding": 5, "gridColor": "#e3e3e3"}},
         "color": {"datum": "NHNM", "scale": {"domain": ["NLNM","NHNM","2020","2021","2022","2023"], "range": ["#bdbdbd","#d9d9d9","#EDB120","#7E2F8E","#77AC30","#4DBEEE"]},
           "legend": {"orient": "top-right", "offset": 4, "title": null, "fillColor": "white", "strokeColor": "#999999", "padding": 5, "symbolType": "M-1,0H5", "symbolSize": 144, "symbolStrokeWidth": 1.5, "labelFontSize": 11.5, "labelFont": "Liberation Sans", "labelColor": "black", "rowPadding": 1.5, "labelOffset": 26}}}},
      {"data": {"name": "nlnm"}, "mark": {"type": "line", "clip": true, "strokeWidth": 1}, "encoding": {"y": {"field": "v", "type": "quantitative"}, "color": {"datum": "NLNM"}}},
      {"data": {"name": "bw20"}, "mark": {"type": "area", "clip": true, "opacity": 0.7}, "encoding": {"y": {"field": "lo", "type": "quantitative", "title": "dB [relative to 1 (m.s⁻²)²/Hz]"}, "y2": {"field": "hi"}, "color": {"datum": "2020"}}},
      {"data": {"name": "w20"}, "mark": {"type": "line", "clip": true, "strokeWidth": 1}, "encoding": {"y": {"field": "v", "type": "quantitative"}, "color": {"datum": "2020"}}},
      {"data": {"name": "bw21"}, "mark": {"type": "area", "clip": true, "opacity": 0.7}, "encoding": {"y": {"field": "lo", "type": "quantitative", "title": "dB [relative to 1 (m.s⁻²)²/Hz]"}, "y2": {"field": "hi"}, "color": {"datum": "2021"}}},
      {"data": {"name": "w21"}, "mark": {"type": "line", "clip": true, "strokeWidth": 1}, "encoding": {"y": {"field": "v", "type": "quantitative"}, "color": {"datum": "2021"}}},
      {"data": {"name": "bw22"}, "mark": {"type": "area", "clip": true, "opacity": 0.7}, "encoding": {"y": {"field": "lo", "type": "quantitative", "title": "dB [relative to 1 (m.s⁻²)²/Hz]"}, "y2": {"field": "hi"}, "color": {"datum": "2022"}}},
      {"data": {"name": "w22"}, "mark": {"type": "line", "clip": true, "strokeWidth": 1}, "encoding": {"y": {"field": "v", "type": "quantitative"}, "color": {"datum": "2022"}}},
      {"data": {"name": "bw23"}, "mark": {"type": "area", "clip": true, "opacity": 0.7}, "encoding": {"y": {"field": "lo", "type": "quantitative", "title": "dB [relative to 1 (m.s⁻²)²/Hz]"}, "y2": {"field": "hi"}, "color": {"datum": "2023"}}},
      {"data": {"name": "w23"}, "mark": {"type": "line", "clip": true, "strokeWidth": 1}, "encoding": {"y": {"field": "v", "type": "quantitative"}, "color": {"datum": "2023"}}},
      {"data": {"name": "dash"}, "mark": {"type": "rule", "color": "#808080", "strokeDash": [6, 4], "strokeWidth": 1}, "encoding": {}}
    ]
  },
  {
    "width": 387, "height": 292,
    "title": {"text": "PSD Saturday – Sunday", "subtitle": "Hurbanovo – gPhoneX 108", "anchor": "middle", "frame": "group", "font": "Liberation Sans", "subtitleFont": "Liberation Sans", "fontSize": 13, "fontWeight": "bold", "subtitleFontSize": 13, "color": "black", "subtitleColor": "#262626", "offset": -5, "subtitlePadding": 5},
    "encoding": {
      "x": {"field": "f", "type": "quantitative", "title": "Frequency (Hz)",
        "scale": {"type": "log", "domain": [5e-5, 0.5], "nice": false},
        "axis": {"values": [6e-5,7e-5,8e-5,9e-5,0.0001,0.0002,0.0003,0.0004,0.0005,0.0006,0.0007,0.0008,0.0009,0.001,0.002,0.003,0.004,0.005,0.006,0.007,0.008,0.009,0.01,0.02,0.03,0.04,0.05,0.06,0.07,0.08,0.09,0.1,0.2,0.3,0.4],
          "labelExpr": "datum.value == 0.0001 ? '10⁻⁴' : datum.value == 0.001 ? '10⁻³' : datum.value == 0.01 ? '10⁻²' : datum.value == 0.1 ? '10⁻¹' : ''",
          "labelOverlap": false, "labelFlush": false, "labelPadding": 9, "titlePadding": 8,
          "gridDash": {"condition": {"test": "datum.value == 0.0001 || datum.value == 0.001 || datum.value == 0.01 || datum.value == 0.1", "value": []}, "value": [1, 2]},
          "gridColor": {"condition": {"test": "datum.value == 0.0001 || datum.value == 0.001 || datum.value == 0.01 || datum.value == 0.1", "value": "#dedede"}, "value": "#d8d8d8"}}}
    },
    "layer": [
      {"data": {"name": "nhnm"}, "mark": {"type": "line", "clip": true, "strokeWidth": 1},
       "encoding": {
         "y": {"field": "v", "type": "quantitative", "title": "dB [relative to 1 (m.s⁻²)²/Hz]", "scale": {"domain": [-220, -80], "nice": false, "zero": false}, "axis": {"values": [-220,-200,-180,-160,-140,-120,-100,-80], "labelExpr": "'' + datum.value", "labelPadding": 5, "titlePadding": 5, "gridColor": "#e3e3e3"}},
         "color": {"datum": "NHNM", "scale": {"domain": ["NLNM","NHNM","2020","2021","2022","2023"], "range": ["#bdbdbd","#d9d9d9","#EDB120","#7E2F8E","#77AC30","#4DBEEE"]},
           "legend": {"orient": "top-right", "offset": 4, "title": null, "fillColor": "white", "strokeColor": "#999999", "padding": 5, "symbolType": "M-1,0H5", "symbolSize": 144, "symbolStrokeWidth": 1.5, "labelFontSize": 11.5, "labelFont": "Liberation Sans", "labelColor": "black", "rowPadding": 1.5, "labelOffset": 26}}}},
      {"data": {"name": "nlnm"}, "mark": {"type": "line", "clip": true, "strokeWidth": 1}, "encoding": {"y": {"field": "v", "type": "quantitative"}, "color": {"datum": "NLNM"}}},
      {"data": {"name": "be20"}, "mark": {"type": "area", "clip": true, "opacity": 0.7}, "encoding": {"y": {"field": "lo", "type": "quantitative", "title": "dB [relative to 1 (m.s⁻²)²/Hz]"}, "y2": {"field": "hi"}, "color": {"datum": "2020"}}},
      {"data": {"name": "e20"}, "mark": {"type": "line", "clip": true, "strokeWidth": 1}, "encoding": {"y": {"field": "v", "type": "quantitative"}, "color": {"datum": "2020"}}},
      {"data": {"name": "be21"}, "mark": {"type": "area", "clip": true, "opacity": 0.7}, "encoding": {"y": {"field": "lo", "type": "quantitative", "title": "dB [relative to 1 (m.s⁻²)²/Hz]"}, "y2": {"field": "hi"}, "color": {"datum": "2021"}}},
      {"data": {"name": "e21"}, "mark": {"type": "line", "clip": true, "strokeWidth": 1}, "encoding": {"y": {"field": "v", "type": "quantitative"}, "color": {"datum": "2021"}}},
      {"data": {"name": "be22"}, "mark": {"type": "area", "clip": true, "opacity": 0.7}, "encoding": {"y": {"field": "lo", "type": "quantitative", "title": "dB [relative to 1 (m.s⁻²)²/Hz]"}, "y2": {"field": "hi"}, "color": {"datum": "2022"}}},
      {"data": {"name": "e22"}, "mark": {"type": "line", "clip": true, "strokeWidth": 1}, "encoding": {"y": {"field": "v", "type": "quantitative"}, "color": {"datum": "2022"}}},
      {"data": {"name": "be23"}, "mark": {"type": "area", "clip": true, "opacity": 0.7}, "encoding": {"y": {"field": "lo", "type": "quantitative", "title": "dB [relative to 1 (m.s⁻²)²/Hz]"}, "y2": {"field": "hi"}, "color": {"datum": "2023"}}},
      {"data": {"name": "e23"}, "mark": {"type": "line", "clip": true, "strokeWidth": 1}, "encoding": {"y": {"field": "v", "type": "quantitative"}, "color": {"datum": "2023"}}},
      {"data": {"name": "dash"}, "mark": {"type": "rule", "color": "#808080", "strokeDash": [6, 4], "strokeWidth": 1}, "encoding": {}}
    ]
  }
],
"resolve": {"scale": {"color": "independent"}, "legend": {"color": "independent"}}
}
